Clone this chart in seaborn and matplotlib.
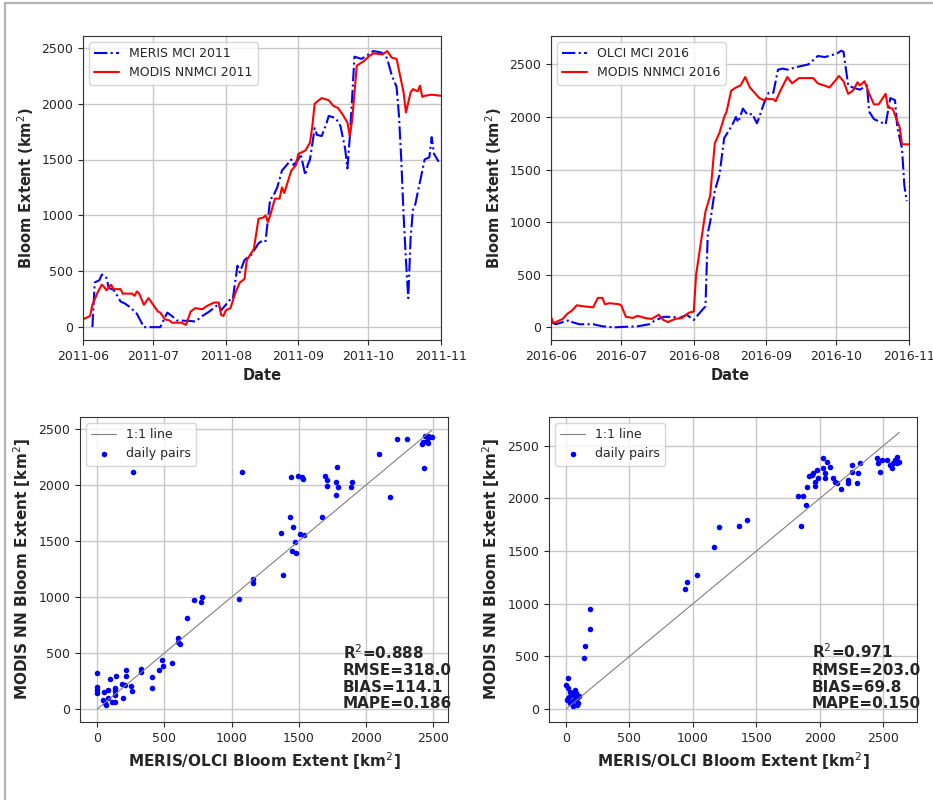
import numpy as np
import pandas as pd
import matplotlib
matplotlib.use('Agg')
import matplotlib.pyplot as plt
import matplotlib.dates as mdates
from matplotlib.lines import Line2D
import seaborn as sns

# ---- 2011 time series (dates MM-DD, km2) ----
meris_2011_days = ['06-05', '06-06', '06-07', '06-08', '06-09', '06-10', '06-11', '06-12', '06-14',
                   '06-16', '06-17', '06-19', '06-21', '06-24', '06-27', '07-04', '07-07', '07-09',
                   '07-11', '07-17', '07-19', '07-22', '07-25', '07-28', '07-29', '07-30', '08-01',
                   '08-03', '08-04', '08-06', '08-07', '08-09', '08-12', '08-15', '08-17', '08-18',
                   '08-20', '08-21', '08-23', '08-25', '08-27', '08-29', '08-30', '09-01', '09-02',
                   '09-04', '09-05', '09-06', '09-08', '09-09', '09-11', '09-13', '09-14', '09-17',
                   '09-19', '09-21', '09-22', '09-23', '09-24', '09-25', '09-28', '10-01', '10-03',
                   '10-06', '10-08', '10-09', '10-11', '10-13', '10-14', '10-15', '10-16', '10-17',
                   '10-18', '10-19', '10-20', '10-21', '10-23', '10-25', '10-27', '10-28', '10-29',
                   '10-31']
meris_2011 = [0, 400, 410, 420, 470, 465, 440, 350, 335,
              270, 230, 210, 180, 120, 0, 0, 130, 100,
              60, 55, 50, 100, 140, 190, 200, 150, 200,
              250, 250, 550, 490, 600, 650, 750, 780, 770,
              1150, 1160, 1250, 1400, 1450, 1500, 1450, 1500, 1550,
              1360, 1450, 1500, 1780, 1720, 1710, 1820, 1890, 1870,
              1800, 1600, 1420, 1700, 2050, 2420, 2400, 2440, 2470,
              2460, 2440, 2400, 2250, 2150, 1900, 1500, 1000, 600,
              260, 800, 1050, 1100, 1300, 1500, 1520, 1700, 1550,
              1480]

modis_2011_days = ['06-01', '06-04', '06-05', '06-06', '06-07', '06-09', '06-10', '06-11', '06-13',
                   '06-14', '06-17', '06-18', '06-22', '06-23', '06-24', '06-25', '06-27', '06-29',
                   '07-01', '07-03', '07-04', '07-06', '07-08', '07-09', '07-13', '07-15', '07-17',
                   '07-19', '07-22', '07-24', '07-27', '07-29', '07-30', '07-31', '08-01', '08-03',
                   '08-05', '08-07', '08-09', '08-10', '08-13', '08-15', '08-17', '08-18', '08-19',
                   '08-20', '08-22', '08-24', '08-25', '08-26', '08-29', '08-31', '09-01', '09-04',
                   '09-06', '09-07', '09-08', '09-11', '09-14', '09-16', '09-18', '09-20', '09-22',
                   '09-23', '09-24', '09-26', '09-29', '10-01', '10-03', '10-07', '10-09', '10-11',
                   '10-13', '10-15', '10-16', '10-17', '10-19', '10-20', '10-22', '10-23', '10-24',
                   '10-25', '10-28', '11-01']
modis_2011 = [70, 100, 200, 250, 300, 380, 360, 330, 380,
              340, 340, 300, 300, 280, 320, 300, 200, 260,
              200, 140, 130, 70, 60, 40, 40, 20, 140,
              170, 160, 190, 220, 220, 110, 100, 150, 170,
              300, 400, 430, 600, 700, 970, 980, 1000, 940,
              1000, 1150, 1150, 1250, 1200, 1400, 1450, 1550, 1580,
              1650, 1800, 2000, 2050, 2030, 1980, 1960, 1900, 1830,
              1710, 1850, 2340, 2380, 2420, 2450, 2440, 2470, 2410,
              2400, 2200, 2100, 1920, 2100, 2130, 2110, 2160, 2060,
              2070, 2080, 2070]

# ---- 2016 time series ----
olci_2016_days = ['06-01', '06-03', '06-06', '06-09', '06-10', '06-13', '06-19', '06-23', '06-28',
                  '07-02', '07-08', '07-13', '07-15', '07-19', '07-23', '07-26', '07-29', '08-01',
                  '08-04', '08-06', '08-07', '08-08', '08-10', '08-12', '08-14', '08-16', '08-18',
                  '08-19', '08-20', '08-22', '08-24', '08-26', '08-28', '08-29', '08-31', '09-02',
                  '09-04', '09-06', '09-08', '09-10', '09-15', '09-19', '09-23', '09-26', '10-01',
                  '10-03', '10-04', '10-06', '10-08', '10-11', '10-14', '10-15', '10-17', '10-20',
                  '10-22', '10-24', '10-26', '10-27', '10-29', '10-30', '10-31']
olci_2016 = [50, 30, 50, 70, 50, 30, 30, 10, 0,
             5, 10, 30, 60, 100, 100, 90, 120, 70,
             150, 200, 900, 1000, 1300, 1450, 1800, 1870, 1950,
             2000, 1950, 2080, 2020, 2030, 1940, 2000, 2130, 2230,
             2230, 2450, 2460, 2450, 2480, 2500, 2580, 2570, 2600,
             2630, 2620, 2300, 2280, 2260, 2300, 2050, 1980, 1950,
             1930, 2180, 2160, 1900, 1700, 1350, 1200]

modis_2016_days = ['06-01', '06-02', '06-04', '06-06', '06-08', '06-10', '06-12', '06-15', '06-19',
                   '06-21', '06-23', '06-24', '06-26', '06-30', '07-01', '07-03', '07-06', '07-08',
                   '07-11', '07-14', '07-17', '07-19', '07-21', '07-24', '07-27', '07-30', '08-01',
                   '08-02', '08-04', '08-06', '08-08', '08-10', '08-12', '08-14', '08-15', '08-17',
                   '08-19', '08-21', '08-23', '08-25', '08-29', '08-31', '09-01', '09-04', '09-05',
                   '09-07', '09-10', '09-12', '09-15', '09-21', '09-23', '09-27', '09-28', '10-01',
                   '10-02', '10-04', '10-06', '10-08', '10-10', '10-11', '10-13', '10-15', '10-17',
                   '10-19', '10-22', '10-23', '10-25', '10-28', '10-29', '11-01']
modis_2016 = [100, 40, 60, 80, 130, 160, 210, 200, 190,
              280, 280, 220, 230, 220, 210, 100, 90, 110,
              90, 80, 120, 70, 50, 80, 90, 140, 150,
              500, 800, 1100, 1250, 1750, 1850, 2000, 2050, 2250,
              2280, 2300, 2380, 2280, 2180, 2160, 2170, 2170, 2150,
              2250, 2380, 2320, 2370, 2370, 2320, 2290, 2280, 2360,
              2390, 2340, 2220, 2250, 2330, 2300, 2340, 2220, 2120,
              2120, 2220, 2090, 2080, 1900, 1740, 1740]

# ---- daily pairs 2011 (MERIS, MODIS NN) ----
pairs_2011_x = [0, 0, 0, 0, 94, 139, 213, 213, 181, 206, 131, 131, 82, 52, 45, 57, 64, 82, 107, 131,
                131, 188, 250, 255, 322, 322, 404, 404, 461, 484, 486, 553, 598, 598, 615, 665, 722,
                769, 776, 263, 1054, 1076, 1161, 1161, 1364, 1384, 1434, 1438, 1446, 1458, 1471, 1478,
                1491, 1520, 1528, 1508, 1538, 1669, 1694, 1706, 1711, 1776, 1773, 1786, 1793, 1885,
                1892, 2098, 2178, 2227, 2302, 2413, 2421, 2431, 2438, 2455, 2463, 2475, 2488, 2458]
pairs_2011_y = [324, 200, 170, 140, 265, 298, 348, 298, 223, 214, 185, 164, 170, 155, 80, 57, 36, 95, 65, 65,
                125, 95, 205, 164, 354, 333, 289, 185, 348, 437, 384, 414, 637, 601, 577, 810, 973,
                958, 997, 2119, 979, 2119, 1158, 1122, 1574, 1196, 1717, 2074, 1414, 1622, 1494, 1390,
                2080, 2074, 2051, 1562, 1554, 1711, 2080, 2045, 1991, 2030, 1911, 2158, 1985, 1979,
                2030, 2277, 1896, 2411, 2408, 2366, 2387, 2149, 2437, 2396, 2440, 2431, 2426, 2378]

# ---- daily pairs 2016 (OLCI, MODIS NN) ----
pairs_2016_x = [13, 0, 18, 32, 5, 26, 45, 58, 71, 84, 97, 53, 79, 105, 32, 18, 63, 89, 45,
                142, 150, 189, 189, 938, 951, 1029, 1166, 1205, 1360, 1429,
                1830, 1849, 1870, 1891, 1896, 1917, 1935, 1949, 1962, 1962, 1975, 1988, 2022, 2027,
                2040, 2040, 2054, 2080, 2101, 2119, 2132, 2164, 2224, 2224, 2251, 2251, 2290, 2303,
                2316, 2453, 2461, 2474, 2487, 2526, 2553, 2566, 2579, 2592, 2610, 2626, 2605]
pairs_2016_y = [291, 228, 196, 165, 85, 117, 70, 133, 180, 101, 54, 28, 149, 123, 54, 101, 85, 38, 155,
                481, 598, 756, 949, 1136, 1209, 1272, 1535, 1731, 1740, 1794,
                2022, 1740, 2022, 1937, 2104, 2212, 2222, 2244, 2158, 2117, 2269, 2190, 2380, 2285,
                2244, 2190, 2348, 2301, 2190, 2158, 2142, 2085, 2174, 2149, 2316, 2253, 2149, 2237,
                2339, 2380, 2332, 2247, 2364, 2364, 2316, 2285, 2332, 2364, 2389, 2348, 2339]

stats_2011 = 'R$^2$=0.888\nRMSE=318.0\nBIAS=114.1\nMAPE=0.186'
stats_2016 = 'R$^2$=0.971\nRMSE=203.0\nBIAS=69.8\nMAPE=0.150'

sns.set_style('ticks', {'axes.grid': True, 'grid.color': '#c8c8c8', 'axes.edgecolor': '#333333'})
plt.rcParams['font.family'] = ['DejaVu Sans']
plt.rcParams['xtick.labelsize'] = 9
plt.rcParams['ytick.labelsize'] = 9
plt.rcParams['legend.fontsize'] = 9

fig = plt.figure(figsize=(9.33, 8), dpi=100)

# grey frame on top and left like the reference
fig.add_artist(Line2D([5 / 933, 1], [797 / 800, 797 / 800], color='#b4b4b4', lw=1.6))
fig.add_artist(Line2D([5 / 933, 5 / 933], [0, 797 / 800], color='#b4b4b4', lw=1.6))

ax1 = fig.add_axes([0.089, 0.575, 0.3837, 0.38])
ax2 = fig.add_axes([0.5906, 0.575, 0.3837, 0.38])
ax3 = fig.add_axes([0.0857, 0.0975, 0.3944, 0.38125])
ax4 = fig.add_axes([0.5884, 0.0975, 0.3944, 0.38125])


def ts_panel(ax, year, d1, v1, lab1, d2, v2, lab2, ylim):
    x1 = pd.to_datetime([f'{year}-{d}' for d in d1])
    x2 = pd.to_datetime([f'{year}-{d}' for d in d2])
    sns.lineplot(x=x1, y=v1, ax=ax, color='blue', linestyle='-.', lw=1.5,
                 estimator=None, sort=False, label=lab1)
    sns.lineplot(x=x2, y=v2, ax=ax, color='red', linestyle='-', lw=1.5,
                 estimator=None, sort=False, label=lab2)
    ax.set_xlim(pd.Timestamp(f'{year}-06-01'), pd.Timestamp(f'{year}-11-01'))
    ax.set_ylim(*ylim)
    ax.xaxis.set_major_locator(mdates.MonthLocator())
    ax.xaxis.set_major_formatter(mdates.DateFormatter('%Y-%m'))
    ax.set_yticks([0, 500, 1000, 1500, 2000, 2500])
    ax.set_xlabel('Date', fontsize=10.5, fontweight='bold')
    ax.set_ylabel('Bloom Extent (km$^2$)', fontsize=10.5, fontweight='bold')
    ax.legend(loc='upper left')
    ax.grid(True, color='#c8c8c8', lw=1)


def scatter_panel(ax, xs, ys, stats, tx, xlim, ylim):
    xs = np.array(xs)
    one = [xs.min(), xs.max()]
    sns.lineplot(x=one, y=one, ax=ax, color='grey', lw=0.8, label='1:1 line')
    sns.scatterplot(x=xs, y=ys, ax=ax, color='blue', s=16, linewidth=0, label='daily pairs')
    ax.set_xlim(*xlim)
    ax.set_ylim(*ylim)
    ax.set_xticks([0, 500, 1000, 1500, 2000, 2500])
    ax.set_yticks([0, 500, 1000, 1500, 2000, 2500])
    ax.set_xlabel('MERIS/OLCI Bloom Extent [km$^2$]', fontsize=11, fontweight='bold')
    ax.set_ylabel('MODIS NN Bloom Extent [km$^2$]', fontsize=11, fontweight='bold')
    ax.legend(loc='upper left')
    ax.grid(True, color='#c8c8c8', lw=1)
    ax.text(tx, -20, stats, fontsize=11, fontweight='bold', va='bottom', ha='left',
            linespacing=1.13)


ts_panel(ax1, 2011, meris_2011_days, meris_2011, 'MERIS MCI 2011',
         modis_2011_days, modis_2011, 'MODIS NNMCI 2011', (-115, 2605))
ts_panel(ax2, 2016, olci_2016_days, olci_2016, 'OLCI MCI 2016',
         modis_2016_days, modis_2016, 'MODIS NNMCI 2016', (-120, 2770))
scatter_panel(ax3, pairs_2011_x, pairs_2011_y, stats_2011, 1828, (-129, 2609), (-116, 2607))
scatter_panel(ax4, pairs_2016_x, pairs_2016_y, stats_2016, 1938, (-134, 2765), (-123, 2773))

fig.savefig('out.png', dpi=100)
